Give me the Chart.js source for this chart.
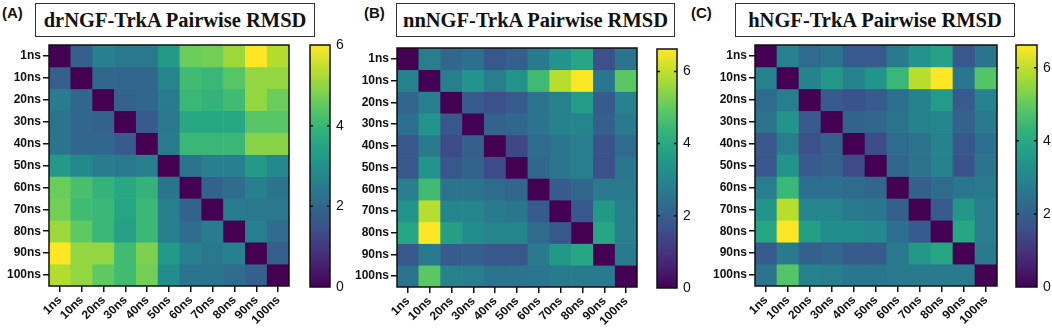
<!DOCTYPE html>
<html><head><meta charset="utf-8">
<script src="https://cdn.jsdelivr.net/npm/chart.js@4.4.1/dist/chart.umd.min.js"></script>
<style>
html,body{margin:0;padding:0;background:#fff;overflow:hidden;}
#root{position:relative;width:1052px;height:331px;overflow:hidden;background:#fff;}
.box{position:absolute;}
.title{position:absolute;border:1.5px solid #333;box-sizing:border-box;font-family:"Liberation Serif","Times New Roman",serif;font-weight:bold;font-size:20.5px;white-space:nowrap;display:flex;align-items:center;justify-content:center;color:#111;background:#fff;}
.tag{position:absolute;font-family:"Liberation Sans",Arial,sans-serif;font-weight:bold;font-size:15px;color:#111;}
</style></head>
<body><div id="root"></div>
<script>
// ---------- data ----------
const categories = ['1ns','10ns','20ns','30ns','40ns','50ns','60ns','70ns','80ns','90ns','100ns'];
const titles = ['drNGF-TrkA Pairwise RMSD','nnNGF-TrkA Pairwise RMSD','hNGF-TrkA Pairwise RMSD'];
const panelTags = ['(A)','(B)','(C)'];
const colorMax = [6.0, 6.62, 6.62];
const colorbarTicks = [0, 2, 4, 6];

const rmsdA = [
 [0.0,1.8,2.6,2.4,2.4,3.2,4.6,4.7,5.1,6.0,5.3],
 [1.8,0.0,2.0,2.0,2.0,2.7,4.1,4.0,4.4,5.0,5.0],
 [2.5,2.0,0.0,1.9,2.0,2.5,4.0,3.9,4.1,5.0,4.6],
 [2.3,2.0,1.9,0.0,1.7,2.4,3.6,3.6,3.6,4.4,4.4],
 [2.3,2.0,2.0,1.7,0.0,2.5,4.0,4.0,4.0,4.9,4.9],
 [3.2,2.8,2.5,2.4,2.6,0.0,2.3,2.6,2.6,3.2,2.8],
 [4.6,4.2,3.9,3.6,3.9,2.3,0.0,1.9,2.1,2.6,2.3],
 [4.7,4.1,4.0,3.5,4.0,2.6,1.9,0.0,2.5,2.4,2.4],
 [5.1,4.5,4.0,3.4,4.0,2.6,2.1,2.5,0.0,2.6,2.1],
 [6.0,5.0,5.0,4.1,4.8,3.2,2.6,2.4,2.6,0.0,1.8],
 [5.3,5.0,4.5,4.1,4.7,2.9,2.3,2.3,2.1,1.8,0.0]
];
const rmsdB = [
 [0.0,2.8,2.2,2.4,1.8,2.0,2.7,3.4,3.9,1.6,2.5],
 [2.9,0.0,2.8,3.4,2.8,3.4,4.5,5.9,6.6,2.6,4.9],
 [2.2,2.8,0.0,1.9,1.6,1.9,2.5,2.9,3.6,1.9,2.9],
 [2.4,3.4,1.8,0.0,2.1,2.2,2.5,2.9,3.0,2.0,2.7],
 [1.8,2.7,1.5,2.0,0.0,1.4,2.3,2.6,2.8,1.7,2.3],
 [1.8,3.4,1.8,2.1,1.5,0.0,2.2,2.6,2.8,1.6,2.6],
 [2.8,4.5,2.5,2.5,2.3,2.2,0.0,1.9,2.2,2.7,2.7],
 [3.4,5.9,3.0,3.0,2.7,2.6,1.9,0.0,1.8,3.5,2.8],
 [3.9,6.6,3.7,3.2,3.0,3.0,2.3,1.8,0.0,3.9,2.8],
 [1.8,2.7,1.9,2.0,1.8,1.8,2.7,3.5,3.9,0.0,2.7],
 [2.5,4.9,2.9,2.8,2.5,2.5,2.6,2.7,2.7,2.7,0.0]
];
const rmsdC = [
 [0.0,2.9,2.3,2.5,1.9,1.9,2.7,3.4,3.8,1.8,2.5],
 [2.9,0.0,2.9,3.5,2.9,3.4,4.4,5.9,6.6,2.6,4.8],
 [2.3,2.8,0.0,1.9,1.7,1.9,2.4,2.9,3.6,1.9,2.9],
 [2.5,3.4,1.9,0.0,2.1,2.2,2.5,2.9,3.0,2.1,2.7],
 [1.8,2.8,1.6,2.0,0.0,1.5,2.3,2.5,2.9,1.8,2.4],
 [1.8,3.4,1.9,2.1,1.5,0.0,2.2,2.5,2.9,1.7,2.5],
 [2.8,4.4,2.4,2.4,2.3,2.2,0.0,2.0,2.3,2.6,2.7],
 [3.4,5.9,3.0,3.0,2.7,2.6,2.0,0.0,1.9,3.5,2.8],
 [3.9,6.6,3.7,3.2,3.2,3.1,2.4,1.9,0.0,3.9,2.8],
 [1.9,2.7,2.0,2.2,1.9,1.9,2.7,3.5,3.9,0.0,2.7],
 [2.5,4.8,2.9,2.8,2.6,2.6,2.7,2.7,2.7,2.7,0.0]
];

// ---------- colour map (viridis) ----------
const viridisStops = ['#440154','#472d7b','#3b528b','#2c728e','#21918c','#28ae80','#5ec962','#addc30','#fde725'];
function hex2rgb(h){return [parseInt(h.slice(1,3),16),parseInt(h.slice(3,5),16),parseInt(h.slice(5,7),16)];}
function viridis(t){
  t=Math.max(0,Math.min(1,t));
  const n=viridisStops.length-1, p=t*n, i=Math.min(n-1,Math.floor(p)), f=p-i;
  const a=hex2rgb(viridisStops[i]), b=hex2rgb(viridisStops[i+1]);
  return 'rgb('+a.map((v,k)=>Math.round(v+(b[k]-v)*f)).join(',')+')';
}

// ---------- layout ----------
const layout = [
  {plot:[49,45,289,286], bar:[310,45,330,287], title:[35,3,315,37], tag:[2,4]},
  {plot:[397,48,637,287], bar:[657,49,677,288], title:[396,3,675,37], tag:[364,4]},
  {plot:[755,45,997,286], bar:[1016,45,1037,287], title:[735,3,1015,37], tag:[691,4]}
];
const matrices = [rmsdA, rmsdB, rmsdC];
const root = document.getElementById('root');
const tickFont = {family:'"Liberation Sans", Arial, sans-serif', size:12, weight:'bold'};

function noPad(s){s.paddingTop=0;s.paddingBottom=0;s.paddingLeft=0;s.paddingRight=0;}

const frame = {
  id:'frame',
  afterDatasetsDraw(chart){
    const a=chart.chartArea, c=chart.ctx;
    c.save(); c.strokeStyle='#111'; c.lineWidth=1.5;
    c.strokeRect(a.left,a.top,a.right-a.left,a.bottom-a.top); c.restore();
  }
};
const barTicks = {
  id:'barTicks',
  afterDraw(chart){
    const s=chart.scales.y, a=chart.chartArea, c=chart.ctx;
    c.save(); c.strokeStyle='#111'; c.lineWidth=1.5;
    c.fillStyle='#111'; c.font='14px "Liberation Sans", Arial, sans-serif';
    c.textAlign='left'; c.textBaseline='middle';
    s.ticks.forEach(t=>{
      const y=s.getPixelForValue(t.value);
      c.fillText(String(t.value), a.right+6, y);
      if(t.value===s.min || t.value===s.max) return;
      c.beginPath(); c.moveTo(a.left,y); c.lineTo(a.left+3,y);
      c.moveTo(a.right-3,y); c.lineTo(a.right,y); c.stroke();
    });
    c.restore();
  }
};

function addCanvas(x,y,w,h){
  const d=document.createElement('div'); d.className='box';
  d.style.left=x+'px'; d.style.top=y+'px'; d.style.width=w+'px'; d.style.height=h+'px';
  const cv=document.createElement('canvas'); d.appendChild(cv); root.appendChild(d);
  return cv;
}

matrices.forEach((m,pi)=>{
  const L=layout[pi];
  const t=document.createElement('div'); t.className='title'; t.textContent=titles[pi];
  t.style.left=L.title[0]+'px'; t.style.top=L.title[1]+'px';
  t.style.width=(L.title[2]-L.title[0])+'px'; t.style.height=(L.title[3]-L.title[1])+'px';
  root.appendChild(t);
  const g=document.createElement('div'); g.className='tag'; g.textContent=panelTags[pi];
  g.style.left=L.tag[0]+'px'; g.style.top=L.tag[1]+'px'; root.appendChild(g);

  // heatmap
  const [pl,pt,pr,pb]=L.plot;
  const cx=Math.max(0,pl-52), cy=pt-3, cw=pr+3-cx, ch=331-cy;
  const yW=pl-cx, xH=331-pb;
  const datasets = m.map((row,r)=>({
    data: row.map(()=>[r-0.5,r+0.5]),
    backgroundColor: row.map(v=>viridis(v/colorMax[pi])),
    borderWidth:0, grouped:false, barPercentage:1, categoryPercentage:1
  }));
  new Chart(addCanvas(cx,cy,cw,ch),{
    type:'bar',
    data:{labels:categories, datasets},
    options:{
      responsive:true, maintainAspectRatio:false, animation:false,
      layout:{autoPadding:false, padding:{top:3,right:3,left:0,bottom:0}},
      plugins:{legend:{display:false},tooltip:{enabled:false}},
      scales:{
        x:{type:'category', offset:true,
           grid:{display:true,offset:false,drawOnChartArea:false,drawTicks:true,tickLength:6,color:'#111',lineWidth:1.5},
           border:{display:false},
           ticks:{font:tickFont,color:'#111',maxRotation:45,minRotation:45,padding:1,autoSkip:false},
           afterFit(s){s.height=xH; noPad(s);}},
        y:{type:'linear', reverse:true, min:-0.5, max:categories.length-0.5,
           afterBuildTicks(s){s.ticks=categories.map((_,i)=>({value:i}));},
           grid:{display:true,drawOnChartArea:false,drawTicks:true,tickLength:6,color:'#111',lineWidth:1.5},
           border:{display:false},
           ticks:{font:tickFont,color:'#111',padding:2,autoSkip:false,callback:(v)=>categories[v]},
           afterFit(s){s.width=yW; noPad(s);}}
      }
    },
    plugins:[frame]
  });

  // colour bar (tick labels drawn by plugin from the scale's ticks)
  const [bl,bt,br,bb]=L.bar;
  const bcx=bl-2, bcy=bt-10;
  const bcw=Math.min((br-bl)+2+26, 1052-bcx), bch=(bb-bt)+20;
  const axW=bcw-2-(br-bl);
  const maxV=colorMax[pi];
  new Chart(addCanvas(bcx,bcy,bcw,bch),{
    type:'bar',
    data:{labels:['RMSD'], datasets:[{
      data:[[0,maxV]], borderWidth:0, barPercentage:1, categoryPercentage:1,
      backgroundColor(ctx){
        const ch=ctx.chart, a=ch.chartArea; if(!a) return '#888';
        const gr=ch.ctx.createLinearGradient(0,a.bottom,0,a.top);
        for(let i=0;i<=20;i++){gr.addColorStop(i/20, viridis(i/20));}
        return gr;
      }
    }]},
    options:{
      responsive:true, maintainAspectRatio:false, animation:false,
      layout:{autoPadding:false, padding:{top:10,bottom:10,left:2,right:0}},
      plugins:{legend:{display:false},tooltip:{enabled:false}},
      scales:{
        x:{display:false},
        y:{position:'right', min:0, max:maxV,
           afterBuildTicks(s){s.ticks=colorbarTicks.map(v=>({value:v}));},
           grid:{display:false}, border:{display:false},
           ticks:{display:false},
           afterFit(s){s.width=axW; noPad(s);}}
      }
    },
    plugins:[frame,barTicks]
  });
});
</script>
</body></html>
